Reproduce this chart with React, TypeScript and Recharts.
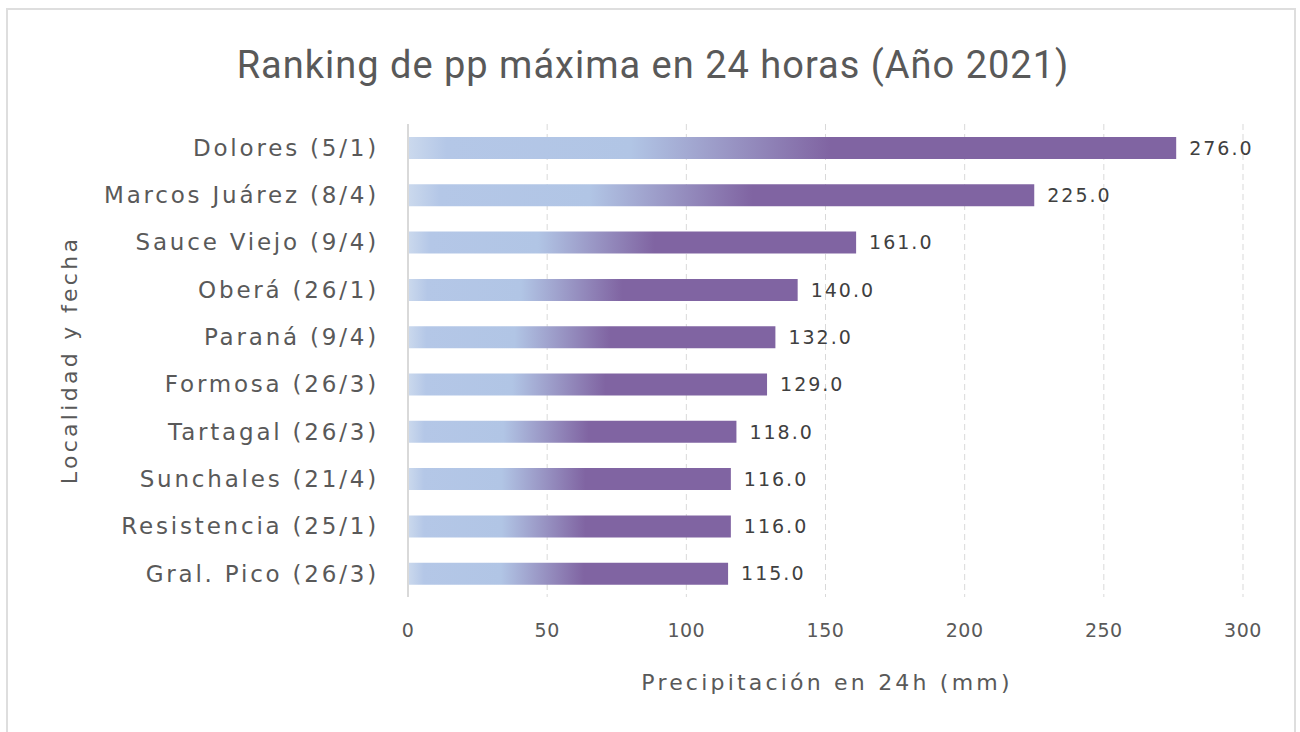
import React from "react";
import { BarChart, Bar, XAxis, YAxis, CartesianGrid, LabelList } from "recharts";

const localidades = [
  "Dolores (5/1)",
  "Marcos Juárez (8/4)",
  "Sauce Viejo (9/4)",
  "Oberá (26/1)",
  "Paraná (9/4)",
  "Formosa (26/3)",
  "Tartagal (26/3)",
  "Sunchales (21/4)",
  "Resistencia (25/1)",
  "Gral. Pico (26/3)",
];
const ppMaxima = [276, 225, 161, 140, 132, 129, 118, 116, 116, 115];
const xTicks = [0, 50, 100, 150, 200, 250, 300];

const data = localidades.map((name, i) => ({ name, pp: ppMaxima[i] }));

const FONT = "'DejaVu Sans', 'Open Sans', sans-serif";
const TITLE_FONT = "Roboto, 'Open Sans', sans-serif";

export default function App() {
  return (
    <div style={{ position: "absolute", left: 0, top: 0, width: 1300, height: 732, background: "#fff", overflow: "hidden" }}>
      {/* chart frame */}
      <div style={{ position: "absolute", left: 6, top: 8, width: 1290, height: 740, border: "2px solid #dedede", boxSizing: "border-box" }} />
      <div style={{ position: "absolute", left: 0, top: 40, width: 1306, textAlign: "center", fontFamily: TITLE_FONT, fontSize: 38, color: "#595959", lineHeight: "50px", letterSpacing: 1 }}>
        Ranking de pp máxima en 24 horas (Año 2021)
      </div>
      <div style={{ position: "absolute", left: 408, width: 838, top: 668, textAlign: "center", fontFamily: FONT, fontSize: 22, color: "#595959", lineHeight: "30px", letterSpacing: 3.2 }}>
        Precipitación en 24h (mm)
      </div>
      <div style={{ position: "absolute", left: 70, top: 360, width: 0, height: 0 }}>
        <div style={{ position: "absolute", left: -200, top: -15, width: 400, textAlign: "center", transform: "rotate(-90deg)", fontFamily: FONT, fontSize: 22, color: "#595959", lineHeight: "30px", letterSpacing: 3.3 }}>
          Localidad y fecha
        </div>
      </div>
      <div style={{ position: "absolute", left: 0, top: 0 }}>
        <BarChart
          width={1300}
          height={732}
          data={data}
          layout="vertical"
          margin={{ top: 124, right: 57, bottom: 105, left: 0 }}
          barSize={22}
        >
          <defs>
            <linearGradient id="ppGrad" x1="0" y1="0" x2="1" y2="0">
              <stop offset="0%" stopColor="#cbd9ed" />
              <stop offset="5%" stopColor="#b4c7e7" />
              <stop offset="29%" stopColor="#b1c5e5" />
              <stop offset="55%" stopColor="#8064a2" />
              <stop offset="100%" stopColor="#8064a2" />
            </linearGradient>
          </defs>
          <CartesianGrid horizontal={false} stroke="#d9d9d9" strokeDasharray="6 4" />
          <XAxis
            type="number"
            domain={[0, 300]}
            ticks={xTicks}
            axisLine={false}
            tickLine={false}
            tickSize={0}
            tickMargin={27}
            height={30}
            tick={{ fill: "#595959", fontSize: 19, fontFamily: FONT, letterSpacing: 0.5 }}
          />
          <YAxis
            type="category"
            dataKey="name"
            width={408}
            axisLine={{ stroke: "#d9d9d9", strokeWidth: 2 }}
            tickLine={false}
            tickSize={0}
            tickMargin={29}
            interval={0}
            tick={{ fill: "#595959", fontSize: 23, fontFamily: FONT, letterSpacing: 2.8 }}
          />
          <Bar dataKey="pp" fill="url(#ppGrad)" isAnimationActive={false}>
            <LabelList
              dataKey="pp"
              position="right"
              offset={13}
              formatter={(v: any) => Number(v).toFixed(1)}
              style={{ fill: "#404040", fontSize: 19, fontFamily: FONT, letterSpacing: 2 }}
            />
          </Bar>
        </BarChart>
      </div>
    </div>
  );
}
